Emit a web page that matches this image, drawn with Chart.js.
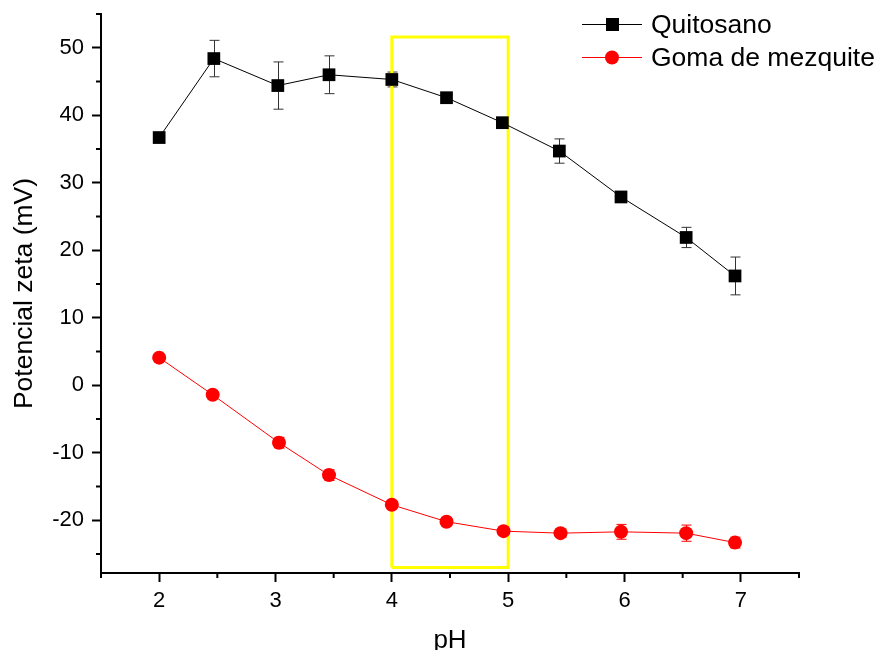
<!DOCTYPE html>
<html>
<head>
<meta charset="utf-8">
<script src="https://cdn.jsdelivr.net/npm/chart.js@4/dist/chart.umd.min.js"></script>
<style>
  html, body { margin: 0; padding: 0; background: #fff; }
  #wrap { width: 882px; height: 650px; }
</style>
</head>
<body>
<div id="wrap"><canvas id="zeta"></canvas></div>
<script>
// Datos
const phQuitosano   = [2.0, 2.47, 3.02, 3.46, 4.0, 4.47, 4.95, 5.44, 5.97, 6.53, 6.95];
const zetaQuitosano = [36.7, 48.4, 44.4, 46.0, 45.3, 42.6, 38.9, 34.7, 27.9, 21.9, 16.2];
const errQuitosano  = [0.4, 2.7, 3.5, 2.8, 1.1, 0.4, 0.3, 1.8, 0.3, 1.5, 2.8];

const phGoma   = [2.0, 2.46, 3.03, 3.46, 4.0, 4.47, 4.96, 5.45, 5.97, 6.53, 6.95];
const zetaGoma = [4.1, -1.4, -8.5, -13.3, -17.7, -20.2, -21.6, -21.9, -21.7, -21.9, -23.3];
const errGoma  = [0.3, 0.3, 0.8, 0.8, 0.5, 0.5, 0.5, 0.6, 1.1, 1.2, 0.8];

// recuadro amarillo (pH 4 - 5)
const boxX = [4, 4, 5, 5, 4];
const boxY = [-27.0, 51.6, 51.6, -27.0, -27.0];

const xMin = 1.5, xMax = 7.5;
const yMin = -27.8, yMax = 55;
const xTicks = [2, 3, 4, 5, 6, 7];
const yTicks = [-20, -10, 0, 10, 20, 30, 40, 50];

const FONT = "'Liberation Sans', Arial, sans-serif";

function toPoints(xs, ys) {
    return xs.map((x, i) => ({ x: x, y: ys[i] }));
}

// Barras de error
const errorBars = {
    id: 'errorBars',
    beforeDatasetsDraw(chart) {
        const ctx = chart.ctx;
        const yScale = chart.scales.y;
        chart.data.datasets.forEach((ds, i) => {
            if (!ds.errors) return;
            const meta = chart.getDatasetMeta(i);
            ctx.save();
            ctx.strokeStyle = ds.errorColor;
            ctx.lineWidth = 1;
            meta.data.forEach((pt, j) => {
                const e = ds.errors[j];
                if (!e) return;
                const v = ds.data[j].y;
                const y1 = yScale.getPixelForValue(v + e);
                const y2 = yScale.getPixelForValue(v - e);
                const x = Math.round(pt.x) + 0.5;
                ctx.beginPath();
                ctx.moveTo(x, y1); ctx.lineTo(x, y2);
                ctx.moveTo(x - 5, y1); ctx.lineTo(x + 5, y1);
                ctx.moveTo(x - 5, y2); ctx.lineTo(x + 5, y2);
                ctx.stroke();
            });
            ctx.restore();
        });
    }
};

// Marcas menores de los ejes
const minorTicks = {
    id: 'minorTicks',
    afterDraw(chart) {
        const ctx = chart.ctx;
        const xs = chart.scales.x, ys = chart.scales.y;
        const area = chart.chartArea;
        ctx.save();
        ctx.strokeStyle = '#000';
        ctx.lineWidth = 2;
        ctx.beginPath();
        for (let v = 1.5; v <= 7.5; v += 1) {
            const px = xs.getPixelForValue(v);
            ctx.moveTo(px, area.bottom);
            ctx.lineTo(px, area.bottom + 5);
        }
        for (let v = -25; v <= 55; v += 10) {
            const py = ys.getPixelForValue(v);
            ctx.moveTo(area.left, py);
            ctx.lineTo(area.left - 5, py);
        }
        ctx.stroke();
        ctx.restore();
    }
};

// Leyenda
const legendBox = {
    id: 'legendBox',
    afterDraw(chart) {
        const ctx = chart.ctx;
        const items = [
            { label: 'Quitosano', color: '#000000', style: 'rect', y: 24 },
            { label: 'Goma de mezquite', color: '#ff0000', style: 'circle', y: 57 }
        ];
        ctx.save();
        items.forEach(it => {
            ctx.strokeStyle = it.color;
            ctx.lineWidth = 1;
            ctx.beginPath();
            ctx.moveTo(582, it.y + 0.5);
            ctx.lineTo(642, it.y + 0.5);
            ctx.stroke();
            ctx.fillStyle = it.color;
            if (it.style === 'rect') {
                ctx.fillRect(606, it.y - 6, 13, 13);
            } else {
                ctx.beginPath();
                ctx.arc(612, it.y + 0.5, 7, 0, Math.PI * 2);
                ctx.fill();
            }
            ctx.fillStyle = '#000';
            ctx.font = '26.5px ' + FONT;
            ctx.textBaseline = 'middle';
            ctx.textAlign = 'left';
            ctx.fillText(it.label, 651, it.y + 2);
        });
        ctx.restore();
    }
};

const ctx = document.getElementById('zeta').getContext('2d');
new Chart(ctx, {
    type: 'scatter',
    data: {
        datasets: [
            {
                label: 'Quitosano',
                data: toPoints(phQuitosano, zetaQuitosano),
                errors: errQuitosano,
                errorColor: '#333333',
                showLine: true,
                borderColor: '#000000',
                backgroundColor: '#000000',
                borderWidth: 1,
                pointStyle: 'rect',
                pointRadius: 9,
                pointBorderWidth: 0,
                order: 1
            },
            {
                label: 'Goma de mezquite',
                data: toPoints(phGoma, zetaGoma),
                errors: errGoma,
                errorColor: '#ff0000',
                showLine: true,
                borderColor: '#ff0000',
                backgroundColor: '#ff0000',
                borderWidth: 1,
                pointStyle: 'circle',
                pointRadius: 7,
                pointBorderWidth: 0,
                order: 0
            },
            {
                label: 'box',
                data: toPoints(boxX, boxY),
                showLine: true,
                borderColor: '#ffff00',
                borderWidth: 3,
                pointRadius: 0,
                fill: false,
                order: 10
            }
        ]
    },
    options: {
        responsive: true,
        maintainAspectRatio: false,
        animation: false,
        layout: { padding: { top: 14, right: 83, left: 0, bottom: 0 } },
        plugins: {
            legend: { display: false },
            tooltip: { enabled: false }
        },
        scales: {
            x: {
                type: 'linear',
                min: xMin,
                max: xMax,
                afterFit: (scale) => {
                    scale.height = 77;
                    scale.paddingLeft = 0;
                    scale.paddingRight = 0;
                },
                afterBuildTicks: (scale) => {
                    scale.ticks = xTicks.map(v => ({ value: v }));
                },
                grid: {
                    drawOnChartArea: false,
                    drawTicks: true,
                    tickLength: 9,
                    tickWidth: 2,
                    tickColor: '#000'
                },
                border: { display: true, color: '#000', width: 2 },
                ticks: {
                    color: '#000',
                    padding: 6,
                    maxRotation: 0,
                    font: { family: FONT, size: 22 },
                    callback: (v) => v
                },
                title: {
                    display: true,
                    text: 'pH',
                    color: '#000',
                    font: { family: FONT, size: 26 },
                    padding: { top: 0, bottom: -6 }
                }
            },
            y: {
                type: 'linear',
                min: yMin,
                max: yMax,
                afterFit: (scale) => {
                    scale.width = 101;
                    scale.paddingTop = 0;
                    scale.paddingBottom = 0;
                },
                afterBuildTicks: (scale) => {
                    scale.ticks = yTicks.map(v => ({ value: v }));
                },
                grid: {
                    drawOnChartArea: false,
                    drawTicks: true,
                    tickLength: 9,
                    tickWidth: 2,
                    tickColor: '#000'
                },
                border: { display: true, color: '#000', width: 2 },
                ticks: {
                    color: '#000',
                    padding: 8,
                    font: { family: FONT, size: 22 },
                    callback: (v) => v
                },
                title: {
                    display: true,
                    text: 'Potencial zeta (mV)',
                    color: '#000',
                    font: { family: FONT, size: 26.5 },
                    padding: { top: 9, bottom: 0 }
                }
            }
        }
    },
    plugins: [errorBars, minorTicks, legendBox]
});
</script>
</body>
</html>
